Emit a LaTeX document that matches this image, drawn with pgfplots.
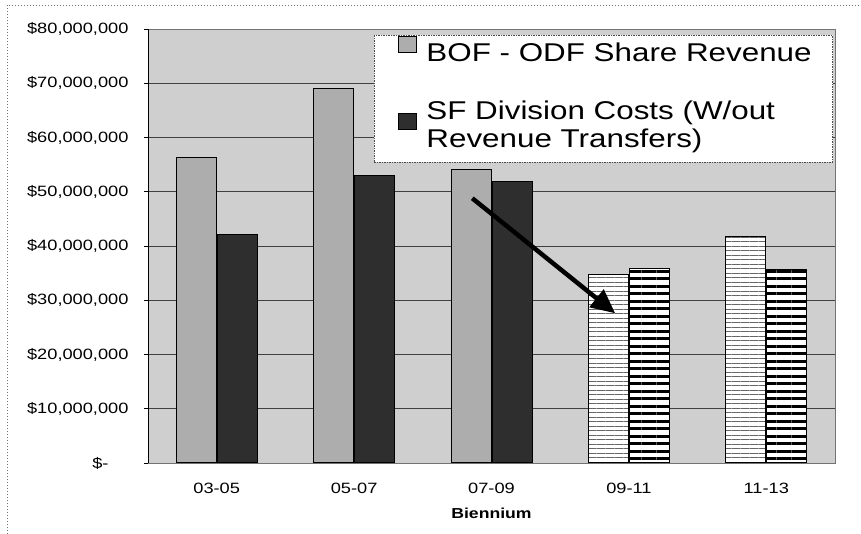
\documentclass[border=0pt]{standalone}
\usepackage{fontspec}
\setmainfont[FakeStretch=1.22]{Liberation Sans}
\usepackage{pgfplots}
\pgfplotsset{compat=1.18}
\usetikzlibrary{patterns.meta,arrows.meta}

\begin{document}
\begin{tikzpicture}
\useasboundingbox (0bp,0bp) rectangle (861bp,534bp);
\draw[black!55, line width=0.6bp, dash pattern=on 1.5bp off 1.5bp] (7bp,0bp) -- (7bp,529bp) -- (861bp,529bp);
\begin{axis}[
  at={(148bp,71bp)}, anchor=south west,
  scale only axis, width=687bp, height=434bp,
  xmin=-0.5, xmax=4.5, ymin=0, ymax=80000000,
  scaled y ticks=false,
  ytick={0,10000000,20000000,30000000,40000000,50000000,60000000,70000000,80000000},
  yticklabels={{\$-\hspace*{20bp}},{\$10,000,000},{\$20,000,000},{\$30,000,000},{\$40,000,000},{\$50,000,000},{\$60,000,000},{\$70,000,000},{\$80,000,000}},
  xtick={0,1,2,3,4},
  xticklabels={03-05,05-07,07-09,09-11,11-13},
  xtick style={draw=none},
  ytick pos=left, tick align=outside, major tick length=4bp,
  ytick style={black, line width=0.6bp},
  ymajorgrids, grid style={black!75, line width=0.7bp},
  axis background/.style={fill=black!19},
  axis line style={black!55, line width=0.6bp},
  ticklabel style={font=\fontsize{15}{17}\selectfont},
  xticklabel style={yshift=-13bp},
  yticklabel style={xshift=-12bp},
  xlabel={Biennium},
  xlabel style={font=\fontsize{14.5}{16}\selectfont\bfseries, yshift=-7bp},
  legend style={at={(0.997,0.986)}, anchor=north east, draw=black!70,
    line width=0.6bp, dash pattern=on 1.5bp off 1bp, fill=white,
    font=\fontsize{25.8}{28}\selectfont, row sep=34bp,
    inner xsep=19bp, inner ysep=1bp,
    nodes={align=left, inner sep=2bp, solid}},
  legend cell align=left,
  legend image code/.code={\draw[#1, solid] (0bp,0bp) rectangle (18bp,16bp); \path[draw=none,fill=none] (-5bp,0bp) -- (26bp,0bp);},
]
\addplot[ybar, bar width=40bp, bar shift=-20.5bp, fill=black!32, draw=black, line width=1bp]
  coordinates {(0,56400000) (1,69000000) (2,54100000)};
\addlegendentry{BOF - ODF Share Revenue}
\addplot[ybar, bar width=40bp, bar shift=20.5bp, fill=black!82, draw=black, line width=1bp]
  coordinates {(0,42200000) (1,53000000) (2,51900000)};
\addlegendentry{SF Division Costs (W/out\\Revenue Transfers)\\[-18bp]\mbox{}}
\addplot[ybar, forget plot, bar width=40bp, bar shift=-20.5bp, fill=white, draw=black, line width=1bp,
  postaction={pattern={Lines[angle=0,distance=4.5bp,line width=0.5bp]}, pattern color=black!60}]
  coordinates {(3,34800000) (4,41800000)};
\addplot[ybar, forget plot, bar width=40bp, bar shift=20.5bp, fill=white, draw=black, line width=1bp,
  postaction={pattern={Lines[angle=0,distance=7.5bp,line width=3bp]}, pattern color=black}]
  coordinates {(3,35900000) (4,35700000)};
\draw[line width=4.5bp, -{Triangle[length=24bp,width=22bp]}]
  (axis cs:1.86,48800000) -- (axis cs:2.9,27600000);
\draw[black, line width=1.2bp] (axis cs:-0.5,0) -- (axis cs:-0.5,80000000);
\end{axis}
\end{tikzpicture}
\end{document}
